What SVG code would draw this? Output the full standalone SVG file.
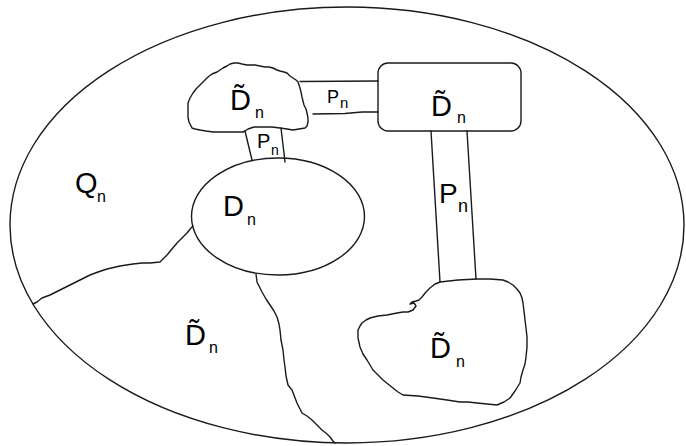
<svg xmlns="http://www.w3.org/2000/svg" width="686" height="446" viewBox="0 0 686 446">
  <style>
    .ln { fill: none; stroke: #1a1a1a; stroke-width: 1.4; stroke-linejoin: round; stroke-linecap: round; }
    .lbl { font-family: "Liberation Sans", Arial, sans-serif; fill: #000; }
    .big { font-size: 29px; }
    .sub { font-size: 16px; }
  </style>
  <rect width="686" height="446" fill="#fff"/>

  <!-- outer domain -->
  <g id="domain">
    <ellipse class="ln" cx="347" cy="225" rx="337" ry="218"/>
    <text class="lbl big" x="75" y="193">Q<tspan class="sub" x="97" y="202">n</tspan></text>
  </g>

  <!-- boundary curves splitting the domain -->
  <g id="boundaries">
    <polyline class="ln" points="33,304 37,302 42,298 50,295 60,290 70,285 80,280 90,275 98,272 107,269 120,266 133,264 142,263 150,263 160,262 163,259 167,255 172,249 177,243 182,238 187,233 191,228 193,226"/>
    <polyline class="ln" points="256,274 257,282 260,288 262,292 266,299 270,305 274,311 277,317 279,324 280,330 281,340 283,350 284,360 285,367 286,376 288,385 292,390 297,403 302,413 307,416 312,420 317,425 322,430 327,434 330,437 333,441 335,443"/>
  </g>

  <!-- D_n -->
  <g id="node-dn">
    <ellipse class="ln" cx="278" cy="216.5" rx="86.5" ry="58.5"/>
    <text class="lbl big" x="223" y="216">D<tspan class="sub" x="247" y="225">n</tspan></text>
  </g>

  <!-- top cloud region -->
  <g id="node-cloud">
    <path class="ln" d="M192,128 L189,122 L188,117 L188,110 L188,103 L190,98 L193,93 L196,89 L200,85 L204,81 L208,77 L212,74 L217,72 L220,70 L223,68 L227,66 L230,64 L234,63 L238,63 L242,64 L247,65 L251,65 L255,65 L260,66 L265,67 L269,67 L273,68 L277,70 L280,71 L284,72 L287,73 L290,76 L293,78 L296,80 L298,82 L299,85 L300,88 L301,92 L302,97 L303,101 L304,105 L306,109 L307,113 L308,118 L308,122 L307,126 L305,128 L299,129 L293,130 L287,129 L280,128 L272,127 L265,127 L260,127 L254,127 L248,129 L245,131 L243,132 L236,132 L230,132 L222,132 L213,132 L206,131 L200,130 L195,129 Z"/>
    <text class="lbl big" x="230" y="110">D&#x303;<tspan class="sub" x="255" y="118">n</tspan></text>
  </g>

  <!-- rounded rectangle region -->
  <g id="node-rect">
    <rect class="ln" x="378" y="63" width="143" height="68" rx="10" ry="10"/>
    <text class="lbl big" x="431" y="116">D&#x303;<tspan class="sub" x="457" y="123">n</tspan></text>
  </g>

  <!-- bottom right blob region -->
  <g id="node-blob">
    <path class="ln" d="M440,282 L458,280 L477,279 L490,279 L503,280 L508,282 L513,285 L517,289 L520,293 L522,298 L523,303 L524,311 L525,320 L526,328 L527,337 L527,347 L526,357 L525,364 L523,370 L521,377 L520,383 L515,391 L510,398 L504,402 L497,405 L487,404 L477,403 L468,402 L460,402 L447,400 L433,398 L418,396 L403,395 L398,392 L393,388 L388,384 L383,380 L378,375 L373,370 L370,365 L367,360 L363,354 L360,347 L358,338 L358,330 L360,326 L362,323 L366,320 L370,318 L378,316 L387,315 L392,314 L397,313 L403,312 L408,312 L413,310 L416,306 L414,303 L410,304 L412,302 L416,301 L419,300 L422,297 L426,292 L430,288 L435,284 Z"/>
    <text class="lbl big" x="430" y="358">D&#x303;<tspan class="sub" x="456" y="367">n</tspan></text>
  </g>

  <!-- lower left region label -->
  <g id="node-lower">
    <text class="lbl big" x="185" y="345">D&#x303;<tspan class="sub" x="209" y="353">n</tspan></text>
  </g>

  <!-- P_n connector strips -->
  <g id="connectors">
    <g id="strip-cloud-rect">
      <line class="ln" x1="300" y1="81.5" x2="378" y2="81"/>
      <polyline class="ln" points="313,114 345,113.5 362,112 378,112"/>
      <text class="lbl" font-size="18" x="327" y="103">P<tspan font-size="15" x="340" y="108">n</tspan></text>
    </g>
    <g id="strip-cloud-dn">
      <line class="ln" x1="245" y1="131" x2="252" y2="160"/>
      <line class="ln" x1="281" y1="128" x2="285" y2="162"/>
      <text class="lbl" font-size="20" x="257" y="148">P<tspan font-size="14" x="271" y="155">n</tspan></text>
    </g>
    <g id="strip-rect-blob">
      <line class="ln" x1="431" y1="131" x2="440" y2="282"/>
      <line class="ln" x1="467" y1="131" x2="476" y2="279"/>
      <text class="lbl" font-size="28" x="439" y="203">P<tspan font-size="18" x="458" y="212">n</tspan></text>
    </g>
  </g>
</svg>
